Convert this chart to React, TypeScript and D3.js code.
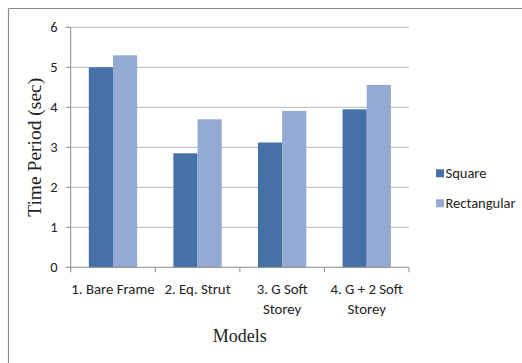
import React from "react";
import * as d3 from "d3";

// Fundamental time period of each building model
const categories = ["1. Bare Frame", "2. Eq. Strut", "3. G Soft Storey", "4. G + 2 Soft Storey"];
const categoryLines = [["1. Bare Frame"], ["2. Eq. Strut"], ["3. G Soft", "Storey"], ["4. G + 2 Soft", "Storey"]];
const seriesNames = ["Square", "Rectangular"];
const squareValues = [5.0, 2.85, 3.12, 3.95];
const rectangularValues = [5.3, 3.7, 3.91, 4.56];
const yTicks = [0, 1, 2, 3, 4, 5, 6];
const seriesColors = ["#4571A7", "#94AAD3"];

const W = 522;
const H = 363;
const plot = { left: 70.7, right: 409, top: 27.3, bottom: 267.3 };
const labelFont = "Carlito, Lato, 'Open Sans', sans-serif";
const titleFont = "'Liberation Serif', 'Times New Roman', serif";

export default function App() {
  const x = d3.scaleBand<string>().domain(categories).range([plot.left, plot.right]).paddingInner(0).paddingOuter(0);
  const xSub = d3.scaleBand<string>().domain(seriesNames).range([0, x.bandwidth()]).paddingInner(0).paddingOuter(0.75);
  const y = d3.scaleLinear().domain([0, 6]).range([plot.bottom, plot.top]);
  const values = [squareValues, rectangularValues];

  const boundaries = categories.map((c) => x(c)!).concat([plot.right]);

  return (
    <svg width={W} height={H} style={{ position: "absolute", left: 0, top: 0, background: "#fff" }}>
      {/* chart frame (runs off the right and bottom edges) */}
      <line x1={8.5} y1={8.5} x2={W} y2={8.5} stroke="#8a8a8a" strokeWidth={1.2} />
      <line x1={8.5} y1={8.5} x2={8.5} y2={H} stroke="#8a8a8a" strokeWidth={1.2} />

      {/* gridlines */}
      {yTicks.filter((t) => t > 0).map((t) => (
        <line key={t} x1={plot.left} x2={plot.right} y1={y(t)} y2={y(t)} stroke="#b8b8b8" strokeWidth={1} />
      ))}

      {/* bars */}
      {categories.map((c, i) =>
        seriesNames.map((s, j) => (
          <rect
            key={c + s}
            x={x(c)! + xSub(s)!}
            y={y(values[j][i])}
            width={xSub.bandwidth()}
            height={y(0) - y(values[j][i])}
            fill={seriesColors[j]}
          />
        ))
      )}

      {/* y axis */}
      <line x1={plot.left} x2={plot.left} y1={plot.top} y2={plot.bottom} stroke="#8a8a8a" />
      {yTicks.map((t) => (
        <g key={t}>
          <line x1={plot.left - 5} x2={plot.left} y1={y(t)} y2={y(t)} stroke="#8a8a8a" />
          <text x={57.5} y={y(t) + 5} textAnchor="end" fontFamily={labelFont} fontSize={14.5} fill="#222">
            {t}
          </text>
        </g>
      ))}

      {/* x axis */}
      <line x1={plot.left} x2={plot.right} y1={plot.bottom} y2={plot.bottom} stroke="#8a8a8a" />
      {boundaries.map((bx, i) => (
        <line key={i} x1={bx} x2={bx} y1={plot.bottom} y2={plot.bottom + 5} stroke="#8a8a8a" />
      ))}
      {categories.map((c, i) => (
        <text key={c} textAnchor="middle" fontFamily={labelFont} fontSize={14.8} fill="#222">
          {categoryLines[i].map((ln, k) => (
            <tspan key={k} x={x(c)! + x.bandwidth() / 2} y={294 + k * 19.5}>
              {ln}
            </tspan>
          ))}
        </text>
      ))}

      {/* axis titles */}
      <text
        transform={`translate(41,${(plot.top + plot.bottom) / 2}) rotate(-90)`}
        textAnchor="middle"
        fontFamily={titleFont}
        fontSize={19.5}
        fill="#222"
      >
        Time Period (sec)
      </text>
      <text x={(plot.left + plot.right) / 2} y={342} textAnchor="middle" fontFamily={titleFont} fontSize={18} fill="#222">
        Models
      </text>

      {/* legend */}
      {seriesNames.map((s, j) => (
        <g key={s} transform={`translate(436,${173.3 + j * 30})`}>
          <rect x={0} y={-4} width={8} height={8} fill={seriesColors[j]} />
          <text x={9.5} y={5} fontFamily={labelFont} fontSize={14.5} fill="#222">
            {s}
          </text>
        </g>
      ))}
    </svg>
  );
}
